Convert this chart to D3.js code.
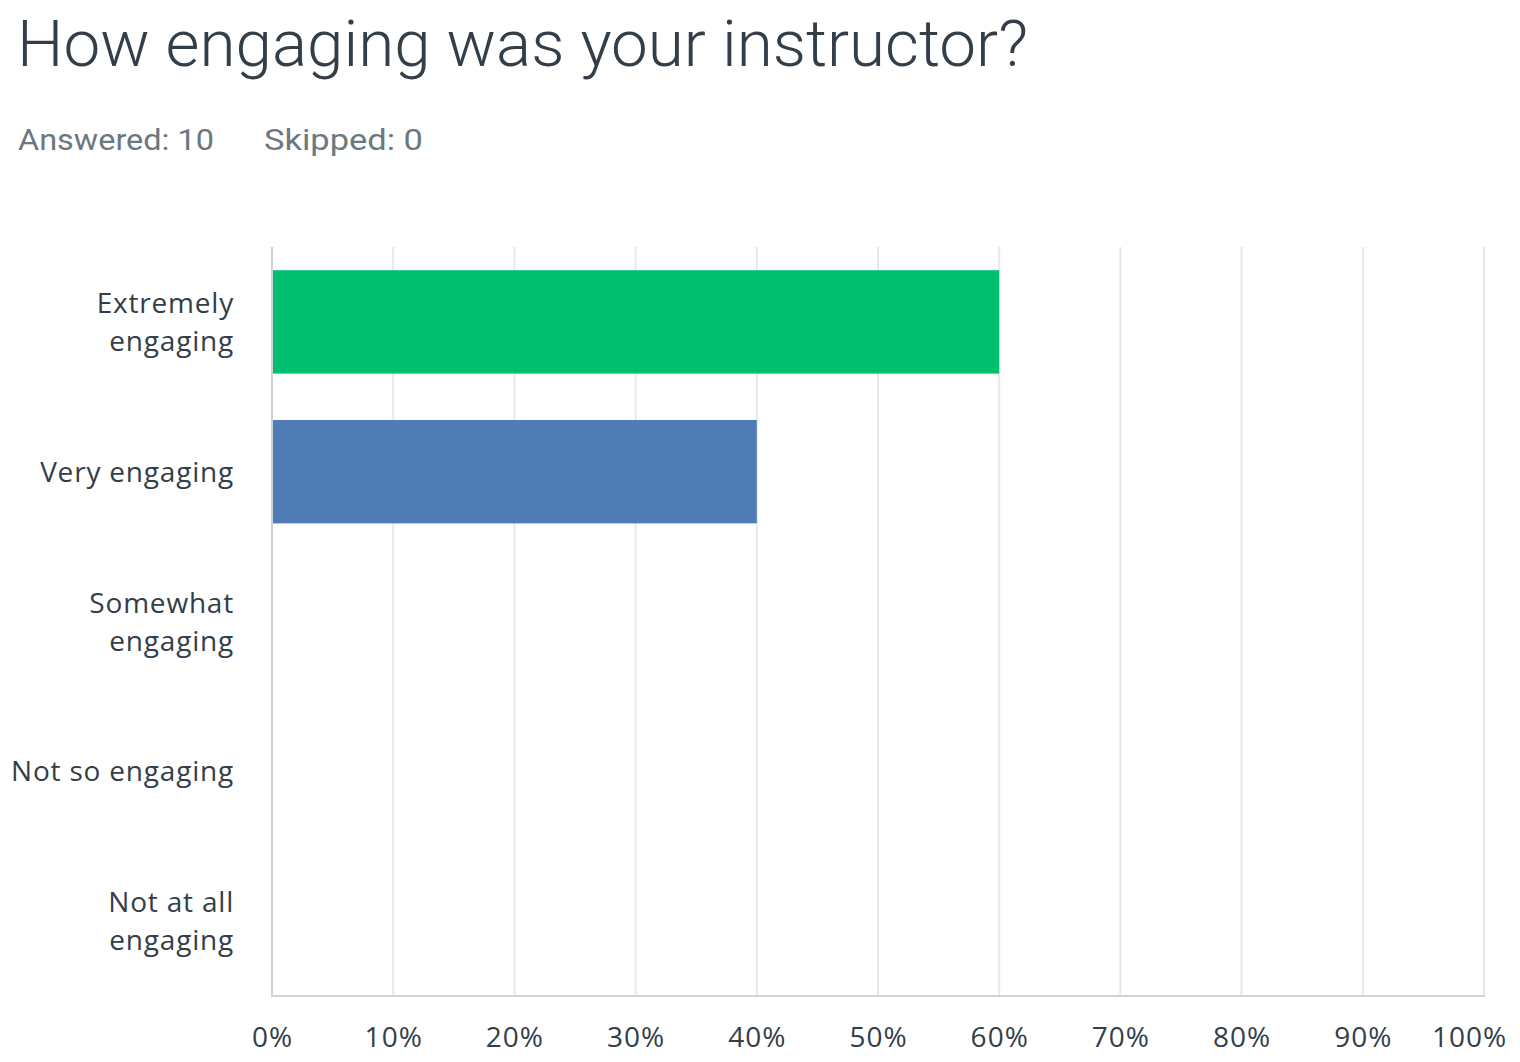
<!DOCTYPE html>
<html>
<head>
<meta charset="utf-8">
<script src="https://cdn.jsdelivr.net/npm/d3@7"></script>
<style>
  html, body { margin: 0; padding: 0; background: #fff; }
  svg { display: block; }
</style>
</head>
<body>
<svg id="chart" width="1520" height="1062"></svg>
<script>
const title = "How engaging was your instructor?";
const answeredText = "Answered: 10";
const skippedText = "Skipped: 0";
const categories = [
  ["Extremely", "engaging"],
  ["Very engaging"],
  ["Somewhat", "engaging"],
  ["Not so engaging"],
  ["Not at all", "engaging"]
];
const values = [60, 40, 0, 0, 0];
const barColors = ["#00bf6f", "#507cb6", "#507cb6", "#507cb6", "#507cb6"];
const tickValues = [0, 10, 20, 30, 40, 50, 60, 70, 80, 90, 100];

(function () {
const svg = d3.select("#chart");
const font = "Roboto, 'Open Sans', sans-serif";
const labelFont = "'Open Sans', sans-serif";
const plotLeft = 272, plotRight = 1484, plotTop = 247, plotBottom = 996;

const x = d3.scaleLinear().domain([0, 100]).range([plotLeft, plotRight]);
const keys = categories.map((c, i) => i);
const y = d3.scaleBand().domain(keys).range([plotTop, plotBottom])
  .paddingInner(0.31).paddingOuter(0.155);

// Title
svg.append("text")
  .attr("x", 17).attr("y", 66)
  .attr("font-family", font).attr("font-weight", 300)
  .attr("font-size", 64).attr("fill", "#333e48")
  .attr("textLength", 1011).attr("lengthAdjust", "spacingAndGlyphs")
  .text(title);

svg.append("text")
  .attr("x", 18).attr("y", 150)
  .attr("font-family", font).attr("font-size", 29).attr("fill", "#6b787f")
  .attr("textLength", 196).attr("lengthAdjust", "spacingAndGlyphs")
  .text(answeredText);
svg.append("text")
  .attr("x", 264).attr("y", 150)
  .attr("font-family", font).attr("font-size", 29).attr("fill", "#6b787f")
  .attr("textLength", 159).attr("lengthAdjust", "spacingAndGlyphs")
  .text(skippedText);

// Gridlines
const grid = svg.append("g");
grid.selectAll("line").data(tickValues.slice(1)).join("line")
  .attr("x1", d => x(d)).attr("x2", d => x(d))
  .attr("y1", plotTop).attr("y2", plotBottom)
  .attr("stroke", "#e8e8e8").attr("stroke-width", 2);

// Bars
svg.append("g").selectAll("rect").data(values).join("rect")
  .attr("x", x(0))
  .attr("y", (d, i) => y(i))
  .attr("width", d => x(d) - x(0))
  .attr("height", y.bandwidth())
  .attr("fill", (d, i) => barColors[i]);

// Axis lines
svg.append("line").attr("x1", plotLeft).attr("x2", plotLeft).attr("y1", plotTop).attr("y2", plotBottom + 1)
  .attr("stroke", "#cfd3d6").attr("stroke-width", 2);
svg.append("line").attr("x1", plotLeft).attr("x2", plotRight + 1).attr("y1", plotBottom).attr("y2", plotBottom)
  .attr("stroke", "#cfd3d6").attr("stroke-width", 2);

// X axis tick labels
const xAxis = d3.axisBottom(x).tickValues(tickValues).tickFormat(d => d + "%").tickSize(0).tickPadding(0);
const gx = svg.append("g").attr("transform", `translate(0, ${plotBottom + 51})`).call(xAxis);
gx.select(".domain").remove();
gx.selectAll("text")
  .attr("font-family", labelFont).attr("font-size", 28).attr("fill", "#333e48")
  .attr("letter-spacing", 1)
  .attr("dy", 0)
  .attr("dx", d => d === 100 ? -15 : 0);

// Y labels
const lineH = 38;
const gy = svg.append("g");
categories.forEach((lines, i) => {
  const cy = y(i) + y.bandwidth() / 2;
  const n = lines.length;
  lines.forEach((t, j) => {
    gy.append("text")
      .attr("x", 234)
      .attr("y", cy + (j - (n - 1) / 2) * lineH + 10)
      .attr("text-anchor", "end")
      .attr("font-family", labelFont).attr("font-size", 28).attr("fill", "#333e48")
      .attr("letter-spacing", 0.8)
      .text(t);
  });
});
})();
</script>
</body>
</html>
